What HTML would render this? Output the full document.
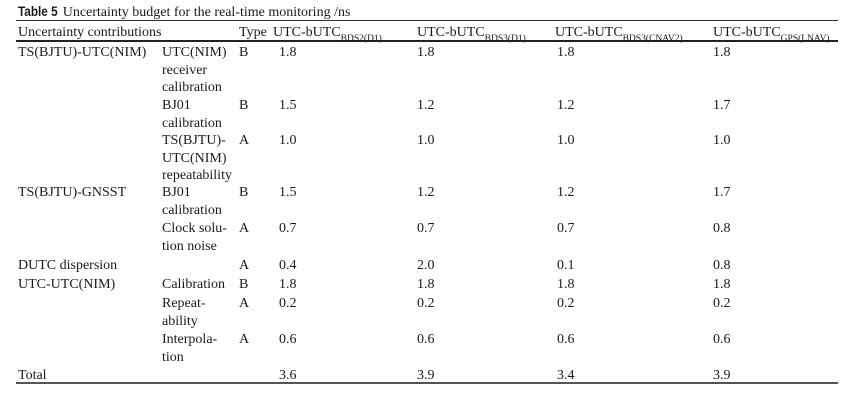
<!DOCTYPE html>
<html>
<head>
<meta charset="utf-8">
<style>
  html, body { margin:0; padding:0; background:#fff; }
  body { width:865px; height:404px; position:relative; overflow:hidden;
         font-family:"Liberation Serif", "Times New Roman", serif; font-size:14px; color:#1a1a1a; }
  .t { position:absolute; line-height:17.5px; white-space:nowrap; }
  .line { position:absolute; left:16px; width:822px; }
  sub { font-size:9.5px; vertical-align:baseline; position:relative; top:5px; }
  .cap { font-family:"Liberation Sans", Arial, sans-serif; font-weight:bold; font-size:14px;
         display:inline-block; transform:scaleX(0.84); transform-origin:left center; margin-right:-6px; }
  .b { position:absolute; left:0; top:2px; width:865px; height:404px; }
</style>
</head>
<body>
  <div class="t" style="left:18px; top:3px;"><span class="cap">Table 5</span> Uncertainty budget for the real-time monitoring /ns</div>

  <div class="line" style="top:20px; height:1px; background:#333;"></div>
  <div class="line" style="top:40px; height:1.5px; background:#222;"></div>
  <div class="line" style="top:382px; height:2px; background:#555;"></div>

  <div class="b">
  <!-- header -->
  <div class="t" style="left:18px; top:22px;">Uncertainty contributions</div>
  <div class="t" style="left:239px; top:22px;">Type</div>
  <div class="t" style="left:273px; top:22px;">UTC-bUTC<sub>BDS2(D1)</sub></div>
  <div class="t" style="left:417px; top:22px;">UTC-bUTC<sub>BDS3(D1)</sub></div>
  <div class="t" style="left:555px; top:22px;">UTC-bUTC<sub>BDS3(CNAV2)</sub></div>
  <div class="t" style="left:713px; top:22px;">UTC-bUTC<sub>GPS(LNAV)</sub></div>

  <!-- row 1 -->
  <div class="t" style="left:18px; top:42px;">TS(BJTU)-UTC(NIM)</div>
  <div class="t" style="left:162px; top:42px;">UTC(NIM)<br>receiver<br>calibration</div>
  <div class="t" style="left:239px; top:42px;">B</div>
  <div class="t" style="left:279px; top:42px;">1.8</div>
  <div class="t" style="left:417px; top:42px;">1.8</div>
  <div class="t" style="left:557px; top:42px;">1.8</div>
  <div class="t" style="left:713px; top:42px;">1.8</div>

  <!-- row 2 -->
  <div class="t" style="left:162px; top:95px;">BJ01<br>calibration</div>
  <div class="t" style="left:239px; top:95px;">B</div>
  <div class="t" style="left:279px; top:95px;">1.5</div>
  <div class="t" style="left:417px; top:95px;">1.2</div>
  <div class="t" style="left:557px; top:95px;">1.2</div>
  <div class="t" style="left:713px; top:95px;">1.7</div>

  <!-- row 3 -->
  <div class="t" style="left:162px; top:130px;">TS(BJTU)-<br>UTC(NIM)<br>repeatability</div>
  <div class="t" style="left:239px; top:130px;">A</div>
  <div class="t" style="left:279px; top:130px;">1.0</div>
  <div class="t" style="left:417px; top:130px;">1.0</div>
  <div class="t" style="left:557px; top:130px;">1.0</div>
  <div class="t" style="left:713px; top:130px;">1.0</div>

  <!-- row 4 -->
  <div class="t" style="left:18px; top:182px;">TS(BJTU)-GNSST</div>
  <div class="t" style="left:162px; top:182px;">BJ01<br>calibration</div>
  <div class="t" style="left:239px; top:182px;">B</div>
  <div class="t" style="left:279px; top:182px;">1.5</div>
  <div class="t" style="left:417px; top:182px;">1.2</div>
  <div class="t" style="left:557px; top:182px;">1.2</div>
  <div class="t" style="left:713px; top:182px;">1.7</div>

  <!-- row 5 -->
  <div class="t" style="left:162px; top:218px;">Clock solu-<br>tion noise</div>
  <div class="t" style="left:239px; top:218px;">A</div>
  <div class="t" style="left:279px; top:218px;">0.7</div>
  <div class="t" style="left:417px; top:218px;">0.7</div>
  <div class="t" style="left:557px; top:218px;">0.7</div>
  <div class="t" style="left:713px; top:218px;">0.8</div>

  <!-- row 6 -->
  <div class="t" style="left:18px; top:255px;">DUTC dispersion</div>
  <div class="t" style="left:239px; top:255px;">A</div>
  <div class="t" style="left:279px; top:255px;">0.4</div>
  <div class="t" style="left:417px; top:255px;">2.0</div>
  <div class="t" style="left:557px; top:255px;">0.1</div>
  <div class="t" style="left:713px; top:255px;">0.8</div>

  <!-- row 7 -->
  <div class="t" style="left:18px; top:274px;">UTC-UTC(NIM)</div>
  <div class="t" style="left:162px; top:274px;">Calibration</div>
  <div class="t" style="left:239px; top:274px;">B</div>
  <div class="t" style="left:279px; top:274px;">1.8</div>
  <div class="t" style="left:417px; top:274px;">1.8</div>
  <div class="t" style="left:557px; top:274px;">1.8</div>
  <div class="t" style="left:713px; top:274px;">1.8</div>

  <!-- row 8 -->
  <div class="t" style="left:162px; top:293px;">Repeat-<br>ability</div>
  <div class="t" style="left:239px; top:293px;">A</div>
  <div class="t" style="left:279px; top:293px;">0.2</div>
  <div class="t" style="left:417px; top:293px;">0.2</div>
  <div class="t" style="left:557px; top:293px;">0.2</div>
  <div class="t" style="left:713px; top:293px;">0.2</div>

  <!-- row 9 -->
  <div class="t" style="left:162px; top:329px;">Interpola-<br>tion</div>
  <div class="t" style="left:239px; top:329px;">A</div>
  <div class="t" style="left:279px; top:329px;">0.6</div>
  <div class="t" style="left:417px; top:329px;">0.6</div>
  <div class="t" style="left:557px; top:329px;">0.6</div>
  <div class="t" style="left:713px; top:329px;">0.6</div>

  <!-- total -->
  <div class="t" style="left:18px; top:365px;">Total</div>
  <div class="t" style="left:279px; top:365px;">3.6</div>
  <div class="t" style="left:417px; top:365px;">3.9</div>
  <div class="t" style="left:557px; top:365px;">3.4</div>
  <div class="t" style="left:713px; top:365px;">3.9</div>
  </div>
</body>
</html>
